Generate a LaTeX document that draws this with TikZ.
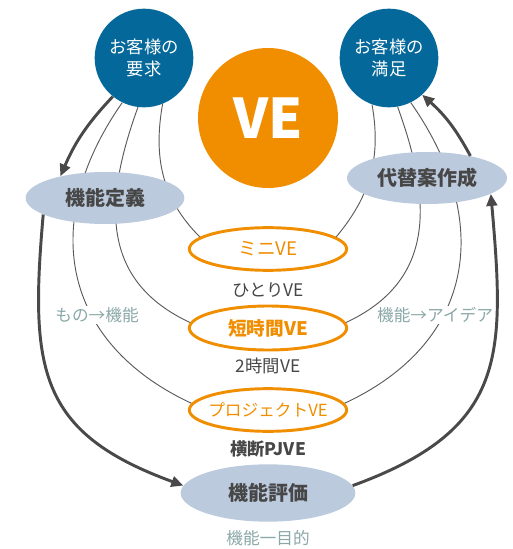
\documentclass[tikz,border=0pt]{standalone}
\usepackage{fontspec}
\setmainfont{Noto Sans CJK JP}
\usetikzlibrary{shapes.geometric,arrows.meta,backgrounds}
\definecolor{vblue}{HTML}{04689A}
\definecolor{vorange}{HTML}{F08E00}
\definecolor{vgray}{HTML}{BCCADD}
\definecolor{vtext}{HTML}{474747}
\definecolor{vteal}{HTML}{8CA8A8}
\definecolor{varrow}{HTML}{4A4848}
\definecolor{vline}{HTML}{5A5A5A}
\begin{document}
\begin{tikzpicture}[x=0.75pt,y=-0.75pt,
 cust/.style={circle,fill=vblue,minimum size=74pt,inner sep=0pt,text=white,font=\fontsize{13}{17}\selectfont,align=center},
 stage/.style={ellipse,fill=vgray,minimum width=119pt,minimum height=39pt,inner sep=0pt,text=vtext,font=\fontsize{15}{17}\selectfont\bfseries},
 vebox/.style={ellipse,draw=vorange,line width=2.2pt,fill=white,minimum width=118pt,minimum height=32pt,inner sep=0pt},
 vetext/.style={text=vorange,font=\fontsize{14}{16}\selectfont},
 sublab/.style={text=vtext,font=\fontsize{13}{15}\selectfont},
 note/.style={text=vteal,font=\fontsize{12.5}{15}\selectfont,fill=white,inner sep=1pt},
 guide/.style={draw=vline,line width=0.7pt},
 flow/.style={draw=varrow,line width=2.2pt,-{Triangle[length=9pt,width=8pt]}}
]
\useasboundingbox (0,0) rectangle (513,549);
\node[cust] (req) at (144,58) {お客様の\\要求};
\node[cust] (sat) at (389,58) {お客様の\\満足};
\node[circle,fill=vorange,minimum size=105pt,inner sep=0pt,text=white,font=\fontsize{41}{41}\selectfont\bfseries] (ve) at (268,118) {VE};
\node[stage] (def) at (105,198) {機能定義};
\node[stage,minimum width=120pt] (alt) at (427,178) {代替案作成};
\node[stage,minimum width=131pt,minimum height=43pt] (eval) at (268,493) {機能評価};
\node[vebox,label={[vetext]center:ミニVE}] (mini) at (268,249) {};
\node[vebox,minimum height=33pt,label={[vetext,font=\fontsize{14}{16}\selectfont\bfseries]center:短時間VE}] (short) at (268,328) {};
\node[vebox,label={[vetext,font=\fontsize{12.5}{15}\selectfont]center:プロジェクトVE}] (proj) at (268,410) {};
\node[sublab] (s1) at (268,290) {ひとりVE};
\node[sublab] (s2) at (268,366) {2時間VE};
\node[sublab,font=\fontsize{13}{15}\selectfont\bfseries] (s3) at (268,449) {横断PJVE};
\node[note] (n1) at (97,315) {もの→機能};
\node[note] (n2) at (435,315) {機能→アイデア};
\node[note] (n3) at (268,538) {機能一目的};
\begin{scope}[on background layer]
\draw[guide] (req.-68) to[out=-100,in=135] (mini.170) -- (mini.10) to[out=50,in=-80] (sat.-110);
\draw[guide] (req.-97) to[out=-110,in=155,looseness=1.15] (short.176) -- (short.4) to[out=25,in=-70,looseness=1.15] (sat.-80);
\draw[guide] (req.-116) to[out=-125,in=155,looseness=1.2] (proj.175) -- (proj.5) to[out=25,in=-55,looseness=1.2] (sat.-64);
\end{scope}
\draw[flow] (req.-129) to[bend right=10] (def.154);
\draw[flow] (def.-165) to[out=-95,in=160,looseness=1.3] (eval.175);
\draw[flow] (eval.5) to[out=20,in=-85,looseness=1.3] (alt.-14);
\draw[flow] (alt.27) to[bend right=10] (sat.-48);
\end{tikzpicture}
\end{document}
